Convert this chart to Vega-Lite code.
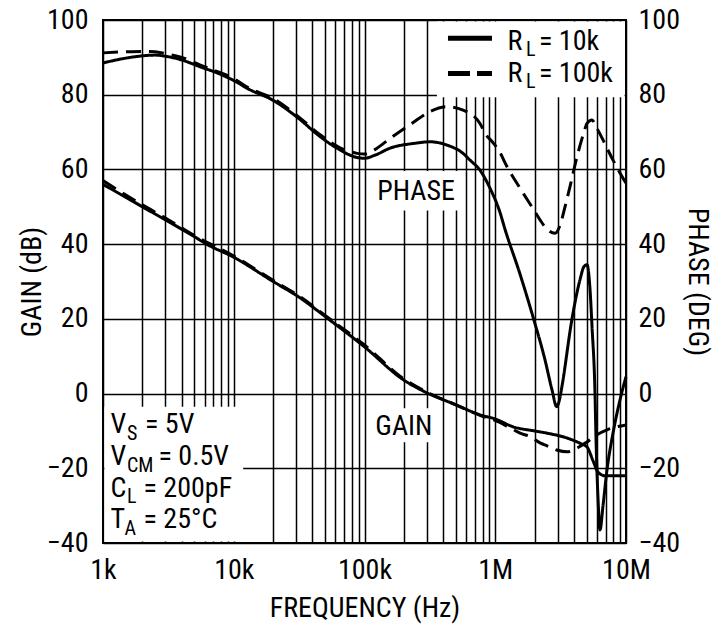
{
  "$schema": "https://vega.github.io/schema/vega-lite/v6.json",
  "width": 523,
  "height": 523,
  "autosize": {"type": "none"},
  "padding": {"left": 103, "top": 20, "right": 101, "bottom": 84},
  "background": "white",
  "config": {
    "view": {"stroke": "black", "strokeWidth": 2},
    "font": "Liberation Sans Narrow, Arial Narrow, Roboto Condensed, Liberation Sans, sans-serif",
    "axis": {
      "labelFont": "Liberation Sans Narrow, Arial Narrow, Roboto Condensed, Liberation Sans, sans-serif",
      "titleFont": "Liberation Sans Narrow, Arial Narrow, Roboto Condensed, Liberation Sans, sans-serif",
      "labelFontSize": 28,
      "titleFontSize": 28,
      "titleFontWeight": "normal",
      "labelColor": "black",
      "titleColor": "black",
      "gridColor": "black",
      "gridOpacity": 1,
      "gridWidth": 1.5,
      "ticks": false,
      "domain": false,
      "labelFlush": false,
      "labelOverlap": false
    },
    "text": {"font": "Liberation Sans Narrow, Arial Narrow, Roboto Condensed, Liberation Sans, sans-serif", "color": "black"}
  },
  "datasets": {
    "curves": [
      {"x": 1000, "y": 56, "q": "gain", "s": "10k"},
      {"x": 1500, "y": 52.5, "q": "gain", "s": "10k"},
      {"x": 2000, "y": 50, "q": "gain", "s": "10k"},
      {"x": 3000, "y": 46.5, "q": "gain", "s": "10k"},
      {"x": 5000, "y": 42, "q": "gain", "s": "10k"},
      {"x": 6200, "y": 40, "q": "gain", "s": "10k"},
      {"x": 10000, "y": 36.5, "q": "gain", "s": "10k"},
      {"x": 20000, "y": 30, "q": "gain", "s": "10k"},
      {"x": 31000, "y": 26, "q": "gain", "s": "10k"},
      {"x": 52800, "y": 20, "q": "gain", "s": "10k"},
      {"x": 100000, "y": 12.5, "q": "gain", "s": "10k"},
      {"x": 200000, "y": 3.6, "q": "gain", "s": "10k"},
      {"x": 300000, "y": 0.2, "q": "gain", "s": "10k"},
      {"x": 500000, "y": -3, "q": "gain", "s": "10k"},
      {"x": 764000, "y": -5.7, "q": "gain", "s": "10k"},
      {"x": 1000000, "y": -6.8, "q": "gain", "s": "10k"},
      {"x": 1370000, "y": -8.9, "q": "gain", "s": "10k"},
      {"x": 2000000, "y": -10, "q": "gain", "s": "10k"},
      {"x": 2490000, "y": -10.6, "q": "gain", "s": "10k"},
      {"x": 3540000, "y": -11.9, "q": "gain", "s": "10k"},
      {"x": 4450000, "y": -13.3, "q": "gain", "s": "10k"},
      {"x": 5030000, "y": -14.3, "q": "gain", "s": "10k"},
      {"x": 5600000, "y": -18, "q": "gain", "s": "10k"},
      {"x": 6100000, "y": -21, "q": "gain", "s": "10k"},
      {"x": 6900000, "y": -22, "q": "gain", "s": "10k"},
      {"x": 10000000, "y": -22, "q": "gain", "s": "10k"},

      {"x": 1000, "y": 57, "q": "gain", "s": "100k"},
      {"x": 2000, "y": 50.5, "q": "gain", "s": "100k"},
      {"x": 3000, "y": 47, "q": "gain", "s": "100k"},
      {"x": 5000, "y": 42.3, "q": "gain", "s": "100k"},
      {"x": 10000, "y": 36.8, "q": "gain", "s": "100k"},
      {"x": 20000, "y": 30.3, "q": "gain", "s": "100k"},
      {"x": 31000, "y": 26.3, "q": "gain", "s": "100k"},
      {"x": 52800, "y": 20.3, "q": "gain", "s": "100k"},
      {"x": 100000, "y": 13, "q": "gain", "s": "100k"},
      {"x": 200000, "y": 3.9, "q": "gain", "s": "100k"},
      {"x": 300000, "y": 0.4, "q": "gain", "s": "100k"},
      {"x": 500000, "y": -3, "q": "gain", "s": "100k"},
      {"x": 764000, "y": -5.8, "q": "gain", "s": "100k"},
      {"x": 1000000, "y": -7.2, "q": "gain", "s": "100k"},
      {"x": 1300000, "y": -9.2, "q": "gain", "s": "100k"},
      {"x": 1550000, "y": -10.6, "q": "gain", "s": "100k"},
      {"x": 1840000, "y": -11.5, "q": "gain", "s": "100k"},
      {"x": 2200000, "y": -13.2, "q": "gain", "s": "100k"},
      {"x": 2490000, "y": -14, "q": "gain", "s": "100k"},
      {"x": 2950000, "y": -15.1, "q": "gain", "s": "100k"},
      {"x": 3540000, "y": -15.6, "q": "gain", "s": "100k"},
      {"x": 4220000, "y": -14.6, "q": "gain", "s": "100k"},
      {"x": 5000000, "y": -13, "q": "gain", "s": "100k"},
      {"x": 6000000, "y": -11, "q": "gain", "s": "100k"},
      {"x": 7160000, "y": -9.7, "q": "gain", "s": "100k"},
      {"x": 10000000, "y": -8.4, "q": "gain", "s": "100k"},

      {"x": 1000, "y": 88.5, "q": "phase", "s": "10k"},
      {"x": 1500, "y": 89.8, "q": "phase", "s": "10k"},
      {"x": 2000, "y": 90.4, "q": "phase", "s": "10k"},
      {"x": 2500, "y": 90.6, "q": "phase", "s": "10k"},
      {"x": 3000, "y": 90.3, "q": "phase", "s": "10k"},
      {"x": 4000, "y": 89.3, "q": "phase", "s": "10k"},
      {"x": 5500, "y": 87.5, "q": "phase", "s": "10k"},
      {"x": 7500, "y": 85.8, "q": "phase", "s": "10k"},
      {"x": 10000, "y": 83.8, "q": "phase", "s": "10k"},
      {"x": 13000, "y": 81.5, "q": "phase", "s": "10k"},
      {"x": 20000, "y": 78.5, "q": "phase", "s": "10k"},
      {"x": 31000, "y": 73.8, "q": "phase", "s": "10k"},
      {"x": 45700, "y": 68.8, "q": "phase", "s": "10k"},
      {"x": 65000, "y": 65.2, "q": "phase", "s": "10k"},
      {"x": 87600, "y": 63.2, "q": "phase", "s": "10k"},
      {"x": 100000, "y": 63, "q": "phase", "s": "10k"},
      {"x": 120000, "y": 63.8, "q": "phase", "s": "10k"},
      {"x": 157000, "y": 65.7, "q": "phase", "s": "10k"},
      {"x": 243000, "y": 67, "q": "phase", "s": "10k"},
      {"x": 317000, "y": 67.4, "q": "phase", "s": "10k"},
      {"x": 428000, "y": 66.5, "q": "phase", "s": "10k"},
      {"x": 567000, "y": 64.3, "q": "phase", "s": "10k"},
      {"x": 641000, "y": 62.5, "q": "phase", "s": "10k"},
      {"x": 764000, "y": 59.8, "q": "phase", "s": "10k"},
      {"x": 911000, "y": 55, "q": "phase", "s": "10k"},
      {"x": 1087000, "y": 48.5, "q": "phase", "s": "10k"},
      {"x": 1187000, "y": 44, "q": "phase", "s": "10k"},
      {"x": 1546000, "y": 32, "q": "phase", "s": "10k"},
      {"x": 1945000, "y": 20.5, "q": "phase", "s": "10k"},
      {"x": 2402000, "y": 9, "q": "phase", "s": "10k"},
      {"x": 2716000, "y": 1, "q": "phase", "s": "10k"},
      {"x": 2951000, "y": -3.5, "q": "phase", "s": "10k"},
      {"x": 3128000, "y": -1, "q": "phase", "s": "10k"},
      {"x": 3240000, "y": 2, "q": "phase", "s": "10k"},
      {"x": 3864000, "y": 20, "q": "phase", "s": "10k"},
      {"x": 4449000, "y": 30.5, "q": "phase", "s": "10k"},
      {"x": 4773000, "y": 34, "q": "phase", "s": "10k"},
      {"x": 5031000, "y": 34.5, "q": "phase", "s": "10k"},
      {"x": 5304000, "y": 28, "q": "phase", "s": "10k"},
      {"x": 5495000, "y": 18, "q": "phase", "s": "10k"},
      {"x": 5793000, "y": 0, "q": "phase", "s": "10k"},
      {"x": 5896000, "y": -12, "q": "phase", "s": "10k"},
      {"x": 6108000, "y": -28, "q": "phase", "s": "10k"},
      {"x": 6327000, "y": -36.5, "q": "phase", "s": "10k"},
      {"x": 6670000, "y": -30, "q": "phase", "s": "10k"},
      {"x": 7157000, "y": -20.4, "q": "phase", "s": "10k"},
      {"x": 7954000, "y": -10.6, "q": "phase", "s": "10k"},
      {"x": 8997000, "y": -1.7, "q": "phase", "s": "10k"},
      {"x": 10000000, "y": 4.5, "q": "phase", "s": "10k"},

      {"x": 1000, "y": 91.2, "q": "phase", "s": "100k"},
      {"x": 1500, "y": 91.5, "q": "phase", "s": "100k"},
      {"x": 2000, "y": 91.6, "q": "phase", "s": "100k"},
      {"x": 2500, "y": 91.5, "q": "phase", "s": "100k"},
      {"x": 3000, "y": 91, "q": "phase", "s": "100k"},
      {"x": 4000, "y": 90, "q": "phase", "s": "100k"},
      {"x": 5500, "y": 88, "q": "phase", "s": "100k"},
      {"x": 7500, "y": 86.2, "q": "phase", "s": "100k"},
      {"x": 10000, "y": 84.3, "q": "phase", "s": "100k"},
      {"x": 13000, "y": 81.8, "q": "phase", "s": "100k"},
      {"x": 20000, "y": 79, "q": "phase", "s": "100k"},
      {"x": 31000, "y": 74.2, "q": "phase", "s": "100k"},
      {"x": 45700, "y": 69.3, "q": "phase", "s": "100k"},
      {"x": 65000, "y": 65.8, "q": "phase", "s": "100k"},
      {"x": 87600, "y": 64.3, "q": "phase", "s": "100k"},
      {"x": 100000, "y": 64.1, "q": "phase", "s": "100k"},
      {"x": 120000, "y": 65.3, "q": "phase", "s": "100k"},
      {"x": 157000, "y": 68.3, "q": "phase", "s": "100k"},
      {"x": 230000, "y": 72.3, "q": "phase", "s": "100k"},
      {"x": 317000, "y": 75.5, "q": "phase", "s": "100k"},
      {"x": 428000, "y": 76.8, "q": "phase", "s": "100k"},
      {"x": 567000, "y": 75.9, "q": "phase", "s": "100k"},
      {"x": 764000, "y": 72.3, "q": "phase", "s": "100k"},
      {"x": 835000, "y": 69.7, "q": "phase", "s": "100k"},
      {"x": 970000, "y": 67, "q": "phase", "s": "100k"},
      {"x": 1087000, "y": 64.5, "q": "phase", "s": "100k"},
      {"x": 1220000, "y": 61, "q": "phase", "s": "100k"},
      {"x": 1546000, "y": 55, "q": "phase", "s": "100k"},
      {"x": 1750000, "y": 52, "q": "phase", "s": "100k"},
      {"x": 1945000, "y": 49.5, "q": "phase", "s": "100k"},
      {"x": 2200000, "y": 46.5, "q": "phase", "s": "100k"},
      {"x": 2488000, "y": 44, "q": "phase", "s": "100k"},
      {"x": 2864000, "y": 42.9, "q": "phase", "s": "100k"},
      {"x": 3128000, "y": 45, "q": "phase", "s": "100k"},
      {"x": 3416000, "y": 50, "q": "phase", "s": "100k"},
      {"x": 3730000, "y": 55.4, "q": "phase", "s": "100k"},
      {"x": 4220000, "y": 63.4, "q": "phase", "s": "100k"},
      {"x": 4773000, "y": 70, "q": "phase", "s": "100k"},
      {"x": 5031000, "y": 72.3, "q": "phase", "s": "100k"},
      {"x": 5495000, "y": 73.2, "q": "phase", "s": "100k"},
      {"x": 6000000, "y": 71, "q": "phase", "s": "100k"},
      {"x": 6670000, "y": 67.9, "q": "phase", "s": "100k"},
      {"x": 7954000, "y": 62.5, "q": "phase", "s": "100k"},
      {"x": 10000000, "y": 56.3, "q": "phase", "s": "100k"}
    ],
    "boxes": [
      {"x": 358000, "x2": 9750000, "y": 79.3, "y2": 99.6},
      {"x": 131000, "x2": 537000, "y": 49, "y2": 59.6},
      {"x": 131000, "x2": 378000, "y": -13, "y2": -3.9},
      {"x": 1025, "x2": 11800, "y": -39.6, "y2": -3.5}
    ],
    "mainText": [
      {"x": 1141, "y": -10.5, "t": "V"},
      {"x": 2095, "y": -10.5, "t": "= 5V"},
      {"x": 1141, "y": -19.1, "t": "V"},
      {"x": 2657, "y": -19.1, "t": "= 0.5V"},
      {"x": 1141, "y": -27.6, "t": "C"},
      {"x": 2041, "y": -27.6, "t": "= 200pF"},
      {"x": 1141, "y": -36.0, "t": "T"},
      {"x": 2041, "y": -36.0, "t": "= 25°C"},
      {"x": 1241000, "y": 92.0, "t": "R"},
      {"x": 2161000, "y": 92.0, "t": "= 10k"},
      {"x": 1241000, "y": 83.5, "t": "R"},
      {"x": 2161000, "y": 83.5, "t": "= 100k"}
    ],
    "subText": [
      {"x": 1526, "y": -12.3, "t": "S"},
      {"x": 1526, "y": -20.9, "t": "CM"},
      {"x": 1526, "y": -29.4, "t": "L"},
      {"x": 1460, "y": -37.8, "t": "A"},
      {"x": 1719000, "y": 90.4, "t": "L"},
      {"x": 1719000, "y": 81.8, "t": "L"}
    ],
    "centerText": [
      {"x": 248000, "y": 51.8, "t": "PHASE"},
      {"x": 200000, "y": -11.1, "t": "GAIN"}
    ],
    "legendSolid": [{"x": 435000, "x2": 944000, "y": 95.1}],
    "legendDashed": [{"x": 435000, "x2": 944000, "y": 85.7}]
  },
  "encoding": {
    "x": {
      "field": "x",
      "type": "quantitative",
      "title": "FREQUENCY (Hz)",
      "scale": {"type": "log", "domain": [1000, 10000000], "nice": false},
      "axis": {
        "values": [1000, 2000, 3000, 4000, 5000, 6000, 7000, 8000, 9000,
                   10000, 20000, 30000, 40000, 50000, 60000, 70000, 80000, 90000,
                   100000, 200000, 300000, 400000, 500000, 600000, 700000, 800000, 900000,
                   1000000, 2000000, 3000000, 4000000, 5000000, 6000000, 7000000, 8000000, 9000000,
                   10000000],
        "labelExpr": "datum.value == 1000 ? '1k' : datum.value == 10000 ? '10k' : datum.value == 100000 ? '100k' : datum.value == 1000000 ? '1M' : datum.value == 10000000 ? '10M' : ''",
        "grid": true,
        "labelPadding": 13,
        "titlePadding": 10
      }
    }
  },
  "layer": [
    {
      "encoding": {
        "y": {
          "field": "y",
          "type": "quantitative",
          "title": "GAIN (dB)",
          "scale": {"domain": [-40, 100], "nice": false},
          "axis": {
            "orient": "left",
            "values": [-40, -20, 0, 20, 40, 60, 80, 100],
            "grid": true,
            "labelPadding": 15,
            "titlePadding": 0
          }
        }
      },
      "layer": [
        {
          "data": {"name": "boxes"},
          "mark": {"type": "rect", "fill": "white", "stroke": null},
          "encoding": {"x2": {"field": "x2"}, "y2": {"field": "y2"}}
        },
        {
          "data": {"name": "curves"},
          "transform": [{"filter": "datum.q == 'gain'"}],
          "mark": {"type": "line", "color": "black", "strokeWidth": 3, "interpolate": "monotone"},
          "encoding": {
            "detail": {"field": "s", "type": "nominal"},
            "strokeDash": {
              "field": "s",
              "type": "nominal",
              "scale": {"domain": ["10k", "100k"], "range": [[1, 0], [15, 8]]},
              "legend": null
            }
          }
        },
        {
          "data": {"name": "mainText"},
          "mark": {"type": "text", "align": "left", "baseline": "alphabetic", "fontSize": 28, "color": "black"},
          "encoding": {"text": {"field": "t", "type": "nominal"}}
        },
        {
          "data": {"name": "subText"},
          "mark": {"type": "text", "align": "left", "baseline": "alphabetic", "fontSize": 20, "color": "black"},
          "encoding": {"text": {"field": "t", "type": "nominal"}}
        },
        {
          "data": {"name": "centerText"},
          "mark": {"type": "text", "align": "center", "baseline": "alphabetic", "fontSize": 28, "color": "black"},
          "encoding": {"text": {"field": "t", "type": "nominal"}}
        },
        {
          "data": {"name": "legendSolid"},
          "mark": {"type": "rule", "color": "black", "strokeWidth": 5},
          "encoding": {"x2": {"field": "x2"}}
        },
        {
          "data": {"name": "legendDashed"},
          "mark": {"type": "rule", "color": "black", "strokeWidth": 5, "strokeDash": [22, 7]},
          "encoding": {"x2": {"field": "x2"}}
        }
      ]
    },
    {
      "data": {"name": "curves"},
      "transform": [{"filter": "datum.q == 'phase'"}],
      "mark": {"type": "line", "color": "black", "strokeWidth": 3, "interpolate": "monotone"},
      "encoding": {
        "y": {
          "field": "y",
          "type": "quantitative",
          "title": "PHASE (DEG)",
          "scale": {"domain": [-40, 100], "nice": false},
          "axis": {
            "orient": "right",
            "values": [-40, -20, 0, 20, 40, 60, 80, 100],
            "grid": false,
            "labelPadding": 12,
            "titlePadding": 3
          }
        },
        "detail": {"field": "s", "type": "nominal"},
        "strokeDash": {
          "field": "s",
          "type": "nominal",
          "scale": {"domain": ["10k", "100k"], "range": [[1, 0], [15, 8]]},
          "legend": null
        }
      }
    }
  ],
  "resolve": {"scale": {"y": "independent"}}
}
